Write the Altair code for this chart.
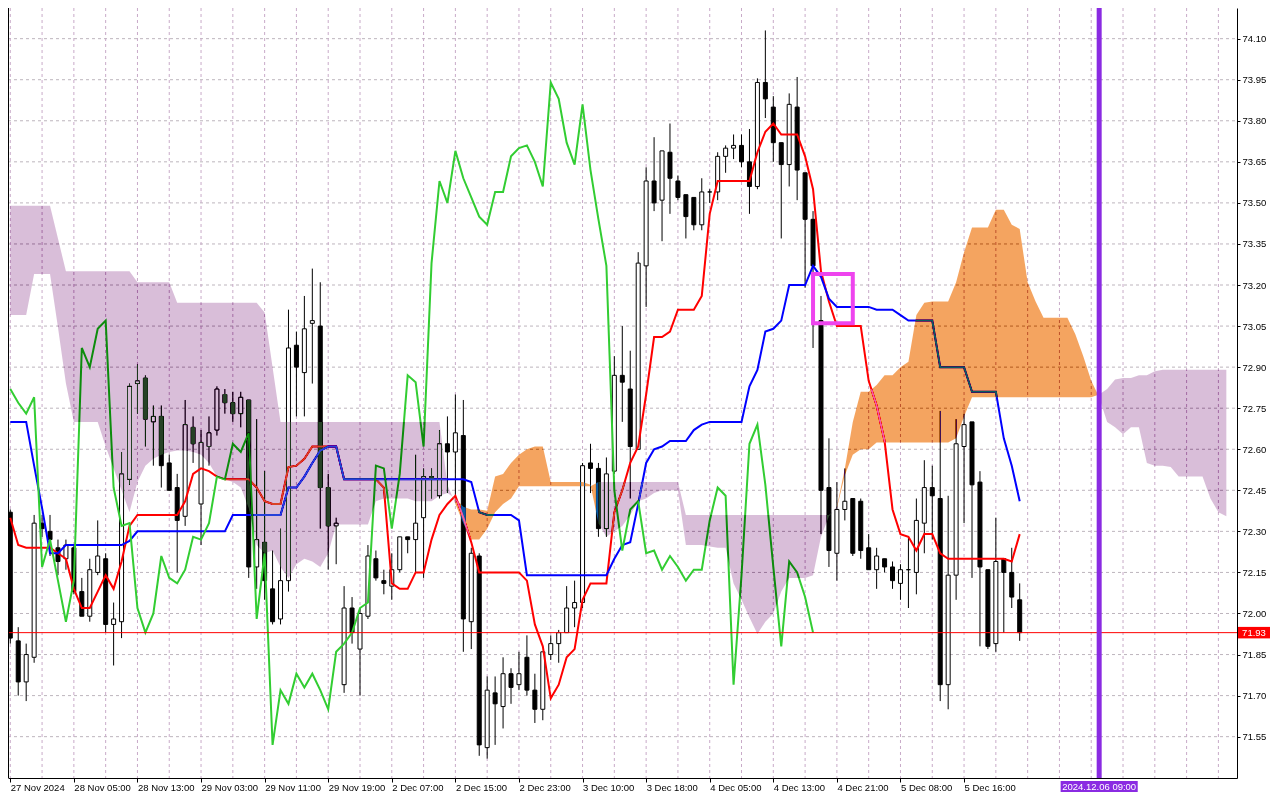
import altair as alt
import pandas as pd

# ---------------- data ----------------
OPEN = [72.37,71.90,71.75,71.84,72.33,72.30,72.24,72.20,72.24,72.08,
        71.99,72.15,72.20,71.96,71.97,72.49,72.84,72.86,72.70,72.72,
        72.55,72.46,72.355,72.68,72.40,72.61,72.67,72.80,72.77,72.73,
        72.78,72.17,72.26,72.09,71.98,72.12,72.98,72.88,73.06,73.05,
        72.46,72.32,71.74,72.02,71.87,71.99,72.20,72.12,72.10,72.16,
        72.28,72.27,72.35,72.50,72.43,72.62,72.59,72.65,71.97,72.21,
        71.51,71.71,71.66,71.78,71.74,71.84,71.72,71.65,71.85,71.89,
        71.93,72.02,72.04,72.55,72.53,72.31,72.52,72.87,72.82,72.60,
        73.27,73.58,73.51,73.685,73.58,73.53,73.52,73.42,73.54,73.54,
        73.67,73.70,73.71,73.65,73.56,73.94,73.85,73.72,73.64,73.85,
        73.61,73.44,73.07,72.46,72.22,72.38,72.42,72.41,72.24,72.16,
        72.20,72.17,72.11,72.16,72.15,72.33,72.46,72.42,71.74,72.14,
        72.61,72.70,72.48,72.16,71.89,72.20,72.15,72.05]
HIGH = [72.38,71.95,71.89,72.36,72.36,72.36,72.27,72.27,72.25,72.13,
        72.20,72.34,72.22,72.04,72.59,72.84,72.91,72.87,72.76,72.76,
        72.58,72.51,72.78,72.72,72.67,72.72,72.83,72.82,72.81,72.81,
        72.78,72.71,72.52,72.23,72.31,73.11,73.03,73.16,73.26,73.21,
        72.51,72.35,72.10,72.06,72.02,72.25,72.23,72.16,72.22,72.28,
        72.28,72.58,72.53,72.53,72.67,72.72,72.80,72.78,72.24,72.22,
        71.77,71.77,71.84,71.80,71.86,71.92,71.78,71.86,71.92,71.94,
        72.10,72.12,72.55,72.62,72.55,72.57,72.94,73.05,72.96,73.32,
        73.63,73.74,73.69,73.79,73.60,73.53,73.52,73.59,73.55,73.685,
        73.71,73.75,73.75,73.77,73.955,74.13,73.89,73.72,73.90,73.96,
        73.61,73.47,73.16,72.64,72.48,72.53,72.42,72.42,72.29,72.24,
        72.20,72.19,72.18,72.28,72.42,72.56,72.54,72.74,72.43,72.71,
        72.73,72.70,72.52,72.16,72.35,72.20,72.24,72.11]
LOW = [71.89,71.70,71.68,71.82,72.28,72.21,72.14,72.16,72.07,71.99,
       71.97,72.14,71.93,71.81,71.91,72.47,72.73,72.61,72.54,72.46,
       72.45,72.15,72.32,72.55,72.25,72.54,72.65,72.73,72.70,72.68,
       72.13,72.09,72.05,71.96,71.96,72.08,72.72,72.72,72.84,72.31,
       72.16,72.18,71.71,71.89,71.70,71.98,72.12,72.07,72.05,72.15,
       72.22,72.15,72.13,72.42,72.42,72.44,72.43,71.86,71.87,71.48,
       71.47,71.52,71.58,71.67,71.72,71.70,71.60,71.61,71.83,71.82,
       71.93,71.95,72.02,72.44,72.28,72.28,72.51,72.70,72.42,72.60,
       73.12,73.47,73.36,73.46,73.51,73.37,73.40,73.40,73.50,73.51,
       73.61,73.66,73.63,73.46,73.55,73.81,73.65,73.37,73.56,73.51,
       73.19,72.97,72.29,72.17,72.12,72.34,72.21,72.20,72.16,72.09,
       72.15,72.09,72.05,72.02,72.07,72.22,72.27,71.68,71.65,72.05,
       72.33,72.13,71.88,71.87,71.86,71.93,72.02,71.90]
CLOSE = [71.91,71.75,71.85,72.33,72.31,72.27,72.19,72.25,72.08,71.99,
         72.16,72.21,71.96,71.98,72.51,72.83,72.85,72.71,72.72,72.54,
         72.45,72.34,72.69,72.62,72.625,72.66,72.82,72.77,72.73,72.79,
         72.17,72.27,72.12,71.97,72.12,72.97,72.90,73.04,73.07,72.46,
         72.32,72.33,72.02,71.93,72.00,72.21,72.13,72.11,72.16,72.28,
         72.27,72.33,72.50,72.49,72.62,72.59,72.66,71.98,72.22,71.52,
         71.72,71.67,71.78,71.73,71.78,71.72,71.65,71.86,71.89,71.93,
         72.02,72.04,72.54,72.53,72.31,72.51,72.87,72.845,72.61,73.28,
         73.58,73.50,73.69,73.59,73.52,73.45,73.42,73.54,73.54,73.67,
         73.70,73.71,73.65,73.56,73.94,73.88,73.72,73.64,73.86,73.62,
         73.44,73.27,72.45,72.23,72.38,72.41,72.22,72.23,72.16,72.21,
         72.17,72.12,72.16,72.16,72.34,72.46,72.43,71.74,72.14,72.62,
         72.69,72.47,72.17,71.88,72.19,72.15,72.06,71.93]

TENKAN = [72.35,72.25,72.24,72.24,72.24,72.24,72.22,72.20,72.09,72.02,
          72.02,72.08,72.14,72.09,72.19,72.32,72.36,72.36,72.36,72.36,
          72.36,72.36,72.41,72.51,72.53,72.52,72.50,72.49,72.49,72.49,
          72.49,72.46,72.41,72.40,72.40,72.535,72.54,72.565,72.61,72.61,
          72.61,72.61,72.49,72.49,72.49,72.49,72.49,72.46,72.11,72.09,
          72.09,72.15,72.15,72.27,72.36,72.40,72.43,72.35,72.26,72.15,
          72.15,72.15,72.15,72.15,72.15,72.12,71.96,71.88,71.69,71.74,
          71.84,71.87,72.05,72.11,72.11,72.11,72.37,72.45,72.55,72.61,
          72.80,73.01,73.01,73.03,73.11,73.11,73.11,73.16,73.46,73.58,
          73.58,73.58,73.58,73.58,73.685,73.76,73.79,73.75,73.75,73.75,
          73.67,73.55,73.25,73.14,73.05,73.05,73.05,73.05,72.85,72.76,
          72.63,72.38,72.29,72.28,72.23,72.29,72.29,72.22,72.20,72.20,
          72.20,72.20,72.20,72.20,72.20,72.20,72.19,72.29]
KIJUN = [72.70,72.70,72.70,72.54,72.385,72.22,72.22,72.25,72.25,72.25,
         72.25,72.25,72.25,72.25,72.25,72.265,72.30,72.30,72.30,72.30,
         72.30,72.30,72.30,72.30,72.30,72.30,72.30,72.30,72.36,72.36,
         72.36,72.36,72.36,72.36,72.36,72.46,72.46,72.50,72.55,72.595,
         72.61,72.61,72.49,72.49,72.49,72.49,72.49,72.49,72.49,72.49,
         72.49,72.49,72.49,72.49,72.49,72.49,72.49,72.49,72.48,72.37,
         72.36,72.36,72.36,72.36,72.34,72.14,72.14,72.14,72.14,72.14,
         72.14,72.14,72.14,72.14,72.14,72.14,72.20,72.25,72.26,72.40,
         72.55,72.60,72.61,72.63,72.63,72.63,72.67,72.69,72.70,72.70,
         72.70,72.70,72.70,72.83,72.89,73.03,73.04,73.07,73.20,73.20,
         73.20,73.27,73.23,73.15,73.12,73.12,73.12,73.12,73.12,73.11,
         73.11,73.11,73.09,73.07,73.07,73.07,73.07,72.90,72.90,72.90,
         72.90,72.81,72.81,72.81,72.81,72.64,72.54,72.41]
SPAN_A = [73.09,73.09,73.09,73.24,73.24,73.24,73.045,72.84,72.70,72.70,
          72.70,72.70,72.61,72.53,72.45,72.37,72.48,72.54,72.565,72.58,
          72.59,72.595,72.595,72.59,72.58,72.55,72.50,72.49,72.48,72.46,
          72.385,72.25,72.22,72.23,72.17,72.13,72.18,72.20,72.19,72.17,
          72.22,72.325,72.325,72.325,72.325,72.325,72.41,72.42,72.42,72.42,
          72.42,72.41,72.41,72.41,72.43,72.44,72.42,72.39,72.38,72.38,
          72.375,72.50,72.51,72.55,72.58,72.60,72.61,72.61,72.48,72.48,
          72.48,72.48,72.48,72.47,72.33,72.28,72.30,72.32,72.36,72.41,
          72.42,72.44,72.45,72.45,72.45,72.25,72.25,72.25,72.245,72.24,
          72.24,72.11,72.05,71.985,71.925,71.97,72.00,72.08,72.13,72.13,
          72.13,72.14,72.28,72.355,72.39,72.53,72.70,72.81,72.81,72.835,
          72.87,72.87,72.90,72.92,73.09,73.135,73.14,73.14,73.14,73.21,
          73.32,73.41,73.41,73.41,73.475,73.475,73.42,73.405,73.21,73.14,
          73.08,73.08,73.08,73.08,73.02,72.94,72.85,72.79,72.70,72.68,
          72.655,72.68,72.68,72.55,72.54,72.54,72.535,72.50,72.50,72.50,
          72.50,72.42,72.37,72.355]
SPAN_B = [73.49,73.49,73.49,73.49,73.49,73.49,73.37,73.25,73.25,73.25,
          73.25,73.25,73.25,73.25,73.25,73.25,73.21,73.21,73.21,73.21,
          73.21,73.135,73.135,73.135,73.135,73.135,73.135,73.135,73.135,73.135,
          73.135,73.135,73.10,72.90,72.70,72.70,72.70,72.70,72.70,72.70,
          72.70,72.70,72.70,72.70,72.70,72.70,72.70,72.70,72.70,72.70,
          72.70,72.70,72.70,72.70,72.70,72.47,72.40,72.33,72.27,72.27,
          72.31,72.37,72.40,72.42,72.465,72.465,72.465,72.465,72.465,72.465,
          72.465,72.465,72.465,72.465,72.48,72.48,72.48,72.48,72.48,72.48,
          72.48,72.48,72.48,72.48,72.48,72.36,72.36,72.36,72.36,72.36,
          72.36,72.36,72.36,72.36,72.36,72.36,72.36,72.36,72.36,72.36,
          72.36,72.36,72.36,72.36,72.385,72.505,72.58,72.60,72.60,72.625,
          72.625,72.625,72.625,72.625,72.625,72.625,72.625,72.625,72.625,72.64,
          72.72,72.79,72.79,72.79,72.79,72.79,72.79,72.79,72.79,72.79,
          72.79,72.79,72.79,72.79,72.79,72.79,72.79,72.80,72.82,72.855,
          72.86,72.86,72.87,72.87,72.885,72.89,72.89,72.89,72.89,72.89,
          72.89,72.89,72.89,72.89]
CHIKOU_SHIFT = 26
X_LABELS = ["27 Nov 2024", "28 Nov 05:00", "28 Nov 13:00", "29 Nov 03:00",
            "29 Nov 11:00", "29 Nov 19:00", "2 Dec 07:00", "2 Dec 15:00",
            "2 Dec 23:00", "3 Dec 10:00", "3 Dec 18:00", "4 Dec 05:00",
            "4 Dec 13:00", "4 Dec 21:00", "5 Dec 08:00", "5 Dec 16:00"]
Y_TICKS = [71.55, 71.70, 71.85, 72.00, 72.15, 72.30, 72.45, 72.60, 72.75,
           72.90, 73.05, 73.20, 73.35, 73.50, 73.65, 73.80, 73.95, 74.10]
BID = 71.93
MARK_BAR = 137
MARK_LABEL = "2024.12.06 09:00"
RECT_BARS = [101, 106]
RECT_PRICES = [73.24, 73.06]

# ---------------- layout ----------------
W, H = 1229, 770
XDOM = [-0.2875, 154.34]
YDOM = [71.399, 74.212]
FONT = "Liberation Sans"
xs = alt.Scale(domain=XDOM, nice=False, zero=False, padding=0)
ys = alt.Scale(domain=YDOM, nice=False, zero=False, padding=0)

n = min(len(OPEN), len(HIGH), len(LOW), len(CLOSE))
candles = pd.DataFrame({
    "bar": list(range(n)), "open": OPEN[:n], "high": HIGH[:n],
    "low": LOW[:n], "close": CLOSE[:n]})

ten = pd.DataFrame({"bar": list(range(len(TENKAN))), "v": TENKAN})
kij = pd.DataFrame({"bar": list(range(len(KIJUN))), "v": KIJUN})
chk = pd.DataFrame({"bar": list(range(n - CHIKOU_SHIFT)),
                    "v": CLOSE[CHIKOU_SHIFT:n]})

m = min(len(SPAN_A), len(SPAN_B))
rows, seg, prev = [], 0, None
for i in range(m):
    st = "up" if SPAN_A[i] > SPAN_B[i] else "dn"
    if prev is not None and st != prev:
        rows.append(dict(bar=i, a=SPAN_A[i], b=SPAN_B[i], st=prev, seg=seg))
        seg += 1
    rows.append(dict(bar=i, a=SPAN_A[i], b=SPAN_B[i], st=st, seg=seg))
    prev = st
cloud = pd.DataFrame(rows)

grid_df = pd.DataFrame({"g": list(range(0, 155, 4))})
hgrid_df = pd.DataFrame({"p": Y_TICKS})
label_expr = "[" + ",".join("'%s'" % t for t in X_LABELS) + "][round(datum.value/8)]"

x_axis = alt.Axis(orient="bottom", values=list(range(0, 8 * len(X_LABELS), 8)),
                  labelExpr=label_expr, labelAlign="left", labelFlush=False,
                  labelOverlap=False, labelPadding=0, labelBaseline="top",
                  tickSize=4, tickColor="black", domainColor="black",
                  labelFont=FONT, labelFontSize=9.5, labelColor="black",
                  grid=False, title=None)
y_axis = alt.Axis(orient="right", values=Y_TICKS, format=".2f", grid=False,
                  tickSize=3, tickColor="black", domainColor="black",
                  labelPadding=2, labelFont=FONT, labelFontSize=9.5,
                  labelColor="black", labelFlush=False, labelOverlap=False,
                  title=None)

# first layers carry the axes (grid rules)
hgrid = alt.Chart(hgrid_df).mark_rule(color="#bdb5bd", strokeDash=[3, 3],
                                      strokeWidth=1).encode(
    x=alt.value(0), x2=alt.value(W),
    y=alt.Y("p:Q", scale=ys, axis=y_axis))
xaxis_l = alt.Chart(grid_df).mark_rule(color="#c8aac8", strokeDash=[3, 3],
                                       strokeWidth=1).encode(
    x=alt.X("g:Q", scale=xs, axis=x_axis))

wicks = alt.Chart(candles).mark_rule(color="black", strokeWidth=1).encode(
    x=alt.X("bar:Q", scale=xs, title=None),
    y=alt.Y("low:Q", scale=ys, title=None), y2="high:Q")

bodies = alt.Chart(candles).mark_bar(width=4, stroke="black",
                                     strokeWidth=1).encode(
    x=alt.X("bar:Q", scale=xs, title=None),
    y=alt.Y("open:Q", scale=ys, title=None), y2="close:Q",
    fill=alt.condition(alt.datum.close >= alt.datum.open,
                       alt.value("white"), alt.value("black")))

def line(df, color):
    return alt.Chart(df).mark_line(color=color, strokeWidth=2).encode(
        x=alt.X("bar:Q", scale=xs, title=None),
        y=alt.Y("v:Q", scale=ys, title=None))

ten_l = line(ten, "#ff0000")
kij_l = line(kij, "#0000ff")
chk_l = line(chk, "#32cd32")

# cloud drawn on top with a "difference" blend: over white it shows
# sandybrown / thistle, over lines and candles it tints them like the original
cloud_l = alt.Chart(cloud).mark_area(opacity=1, blend="difference").encode(
    x=alt.X("bar:Q", scale=xs, title=None),
    y=alt.Y("a:Q", scale=ys, title=None), y2="b:Q",
    color=alt.Color("st:N", scale=alt.Scale(domain=["up", "dn"],
                    range=["#0b5b9f", "#264126"]), legend=None),
    detail="seg:N")

bid_df = pd.DataFrame({"p": [BID], "t": ["%.2f" % BID]})
bid_l = alt.Chart(bid_df).mark_rule(color="#ff0000", strokeWidth=1).encode(
    x=alt.value(0), x2=alt.value(W),
    y=alt.Y("p:Q", scale=ys, title=None))
bid_box = alt.Chart(bid_df).transform_calculate(
    p1="datum.p + 0.021", p2="datum.p - 0.021").mark_rect(color="#ff0000").encode(
    x=alt.value(W + 1), x2=alt.value(W + 33),
    y=alt.Y("p1:Q", scale=ys, title=None), y2="p2:Q")
bid_txt = alt.Chart(bid_df).mark_text(color="white", font=FONT, fontSize=9.5,
                                      align="center", baseline="middle").encode(
    x=alt.value(W + 17), y=alt.Y("p:Q", scale=ys, title=None), text="t:N")

mk_df = pd.DataFrame({"bar": [MARK_BAR], "t": [MARK_LABEL]})
mk_line = alt.Chart(mk_df).mark_rule(color="#8a2be2", strokeWidth=5).encode(
    x=alt.X("bar:Q", scale=xs, title=None), y=alt.value(0), y2=alt.value(H))
mk_box = alt.Chart(mk_df).transform_calculate(
    b1="datum.bar - 4.85", b2="datum.bar + 4.85").mark_rect(color="#8a2be2").encode(
    x=alt.X("b1:Q", scale=xs, title=None), x2="b2:Q",
    y=alt.value(H + 3), y2=alt.value(H + 14))
mk_txt = alt.Chart(mk_df).mark_text(color="white", font=FONT, fontSize=9.5,
                                    align="center", baseline="middle").encode(
    x=alt.X("bar:Q", scale=xs, title=None), y=alt.value(H + 8.5), text="t:N")

rect_df = pd.DataFrame({"x1": [RECT_BARS[0]], "x2": [RECT_BARS[1]],
                        "p1": [RECT_PRICES[0]], "p2": [RECT_PRICES[1]]})
rect_l = alt.Chart(rect_df).mark_rect(fillOpacity=0, stroke="#ee44ee",
                                      strokeWidth=4).encode(
    x=alt.X("x1:Q", scale=xs, title=None), x2="x2:Q",
    y=alt.Y("p1:Q", scale=ys, title=None), y2="p2:Q")

left_border = alt.Chart(bid_df).mark_rule(color="black", strokeWidth=1).encode(
    x=alt.value(0.5), y=alt.value(0), y2=alt.value(H))

chart = alt.layer(
    hgrid, xaxis_l, wicks, bodies, ten_l, kij_l, chk_l, cloud_l,
    bid_l, mk_line, rect_l, bid_box, bid_txt, mk_box, mk_txt, left_border
).properties(
    width=W, height=H,
    autosize=alt.AutoSizeParams(type="none"),
    padding={"left": 0, "top": 0, "right": 33, "bottom": 14},
    background="white"
).configure_view(stroke=None)

chart.save("out.html", embed_options={"renderer": "svg", "actions": False})
